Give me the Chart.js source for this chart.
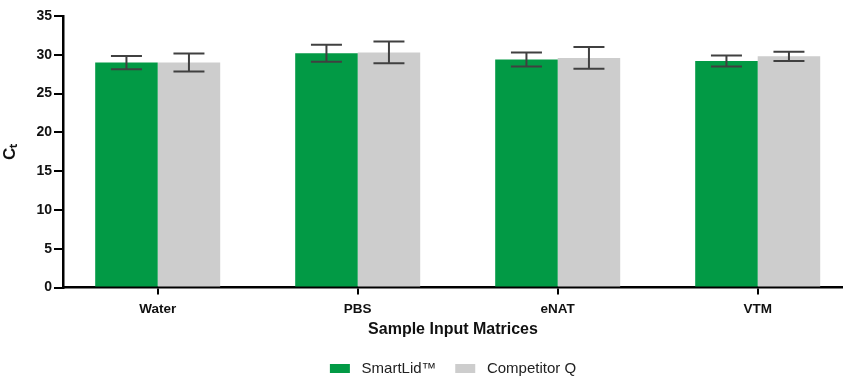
<!DOCTYPE html>
<html>
<head>
<meta charset="utf-8">
<script src="https://cdn.jsdelivr.net/npm/chart.js@4"></script>
<style>
  html, body { margin: 0; padding: 0; background: #fff; }
  #wrap { width: 843px; height: 381px; }
</style>
</head>
<body>
<div id="wrap"><canvas id="ctChart"></canvas></div>
<script>
const categories = ['Water', 'PBS', 'eNAT', 'VTM'];
const smartLid = [29.0, 30.2, 29.4, 29.2];
const smartLidErr = [0.85, 1.1, 0.9, 0.7];
const competitor = [29.0, 30.3, 29.6, 29.8];
const competitorErr = [1.15, 1.4, 1.4, 0.6];
const yTicks = [0, 5, 10, 15, 20, 25, 30, 35];

const FONT = "'Liberation Sans', Arial, sans-serif";

const toPoints = vals => vals.map((v, i) => ({ x: i, y: v }));

// error bars drawn from the y scale
const errorBars = {
  id: 'errorBars',
  afterDatasetsDraw(chart) {
    const ctx = chart.ctx, y = chart.scales.y;
    chart.data.datasets.forEach((ds, di) => {
      const meta = chart.getDatasetMeta(di);
      meta.data.forEach((bar, i) => {
        const v = ds.data[i].y, e = ds.errors[i];
        const top = y.getPixelForValue(v + e), bot = y.getPixelForValue(v - e);
        const half = 15.5;
        ctx.save();
        ctx.strokeStyle = '#404040';
        ctx.lineWidth = 2;
        ctx.beginPath();
        ctx.moveTo(bar.x, top); ctx.lineTo(bar.x, bot);
        ctx.moveTo(bar.x - half, top); ctx.lineTo(bar.x + half, top);
        ctx.moveTo(bar.x - half, bot); ctx.lineTo(bar.x + half, bot);
        ctx.stroke();
        ctx.restore();
      });
    });
  }
};

new Chart(document.getElementById('ctChart'), {
  type: 'bar',
  data: {
    datasets: [
      { label: 'SmartLid™', data: toPoints(smartLid), errors: smartLidErr,
        backgroundColor: '#029a45', borderWidth: 0 },
      { label: 'Competitor Q', data: toPoints(competitor), errors: competitorErr,
        backgroundColor: '#cdcdcd', borderWidth: 0 }
    ]
  },
  options: {
    responsive: true,
    maintainAspectRatio: false,
    animation: false,
    categoryPercentage: 0.625,
    barPercentage: 1.0,
    layout: { padding: { top: 16, right: 0, left: 0, bottom: -5 } },
    plugins: {
      tooltip: { enabled: false },
      legend: {
        position: 'bottom',
        fullSize: false,
        labels: {
          font: { family: FONT, size: 15, lineHeight: 1.0 },
          color: '#222',
          boxWidth: 20,
          boxHeight: 9,
          padding: 2,
          generateLabels: chart => {
            const items = Chart.defaults.plugins.legend.labels.generateLabels(chart);
            items.forEach((it, i) => {
              it.text = ' ' + it.text + (i < items.length - 1 ? '    ' : '');
            });
            return items;
          }
        }
      }
    },
    scales: {
      x: {
        type: 'linear',
        offset: false,
        min: -0.4735,
        max: 3.4265,
        afterBuildTicks: s => { s.ticks = categories.map((c, i) => ({ value: i })); },
        ticks: {
          callback: (v, i) => categories[i] ?? '',
          font: { family: FONT, size: 13.5, weight: 'bold', lineHeight: 1.0 },
          color: '#111',
          padding: 8,
          maxRotation: 0,
          autoSkip: false
        },
        grid: { offset: false, drawOnChartArea: false, drawTicks: true, tickLength: 7, color: '#000', lineWidth: 2 },
        border: { color: '#000', width: 2.5 },
        title: {
          display: true,
          text: 'Sample Input Matrices',
          font: { family: FONT, size: 16, weight: 'bold', lineHeight: 1.0 },
          color: '#111',
          padding: { top: -2, bottom: 21 }
        }
      },
      y: {
        min: 0,
        max: 35,
        afterBuildTicks: s => { s.ticks = yTicks.map(v => ({ value: v })); },
        afterFit: s => { s.width = 63; },
        ticks: {
          font: { family: FONT, size: 14, weight: 'bold' },
          color: '#111',
          padding: 2
        },
        grid: { drawOnChartArea: false, drawTicks: true, tickLength: 9, color: '#000', lineWidth: 2 },
        border: { color: '#000', width: 2.5 },
        title: {
          display: true,
          text: 'Cₜ',
          font: { family: FONT, size: 17, weight: 'bold' },
          color: '#111',
          padding: { top: 0, bottom: 4 }
        }
      }
    }
  },
  plugins: [errorBars]
});
</script>
</body>
</html>
